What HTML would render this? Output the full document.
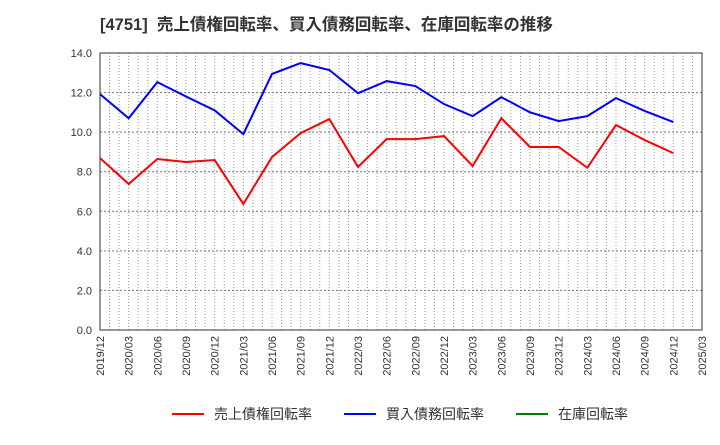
<!DOCTYPE html>
<html><head><meta charset="utf-8"><style>
body{margin:0;background:#fff;width:720px;height:440px;overflow:hidden;font-family:"Liberation Sans","Noto Sans CJK JP",sans-serif}
</style></head><body>
<svg id="chart" width="720" height="440" xmlns="http://www.w3.org/2000/svg" font-family="Liberation Sans, Noto Sans CJK JP, sans-serif">
<text x="100" y="30" font-size="16.5" font-weight="bold" fill="#333" xml:space="preserve">[4751]  売上債権回転率、買入債務回転率、在庫回転率の推移</text>
<g id="grid"></g><g id="axes"></g><g id="series"></g>
<g font-size="14" fill="#333">
<g><line x1="172" y1="414" x2="204" y2="414" stroke="#f00" stroke-width="2"/><text x="214" y="419">売上債権回転率</text></g>
<g><line x1="344" y1="414" x2="376" y2="414" stroke="#00f" stroke-width="2"/><text x="386" y="419">買入債務回転率</text></g>
<g><line x1="516" y1="414" x2="548" y2="414" stroke="#008000" stroke-width="2"/><text x="558" y="419">在庫回転率</text></g>
</g>
</svg>
<script>
const categories=["2019/12","2020/03","2020/06","2020/09","2020/12","2021/03","2021/06","2021/09","2021/12","2022/03","2022/06","2022/09","2022/12","2023/03","2023/06","2023/09","2023/12","2024/03","2024/06","2024/09","2024/12","2025/03"];
const receivables=[8.69,7.38,8.64,8.49,8.59,6.37,8.74,9.95,10.66,8.24,9.65,9.65,9.8,8.29,10.7,9.25,9.25,8.2,10.36,9.6,8.94];
const payables=[11.92,10.7,12.53,11.8,11.1,9.9,12.94,13.49,13.14,11.97,12.58,12.33,11.42,10.81,11.77,11.0,10.56,10.81,11.72,11.07,10.51];
const yTicks=["0.0","2.0","4.0","6.0","8.0","10.0","12.0","14.0"];
const X0=100,X1=702,Y0=330,Y1=53,YMAX=14;
const NS="http://www.w3.org/2000/svg";
const step=(X1-X0)/(categories.length-1);
function x(i){return X0+i*step;}
function y(v){return Y0-(v/YMAX)*(Y0-Y1);}
function mk(t,a,p){const e=document.createElementNS(NS,t);for(const k in a)e.setAttribute(k,a[k]);p.appendChild(e);return e;}
const grid=document.getElementById('grid'),axes=document.getElementById('axes'),ser=document.getElementById('series');
for(let m=1;m<(categories.length-1)*3;m++){const xx=X0+m*step/3;
const g=mk('line',{x1:xx,x2:xx,y1:Y1,y2:Y0,stroke:'#999','stroke-dasharray':'1,2','stroke-width':1},grid);

}
yTicks.forEach(t=>{const yy=y(parseFloat(t));
if(parseFloat(t)>0&&parseFloat(t)<YMAX){const g=mk('line',{x1:X0,x2:X1,y1:yy,y2:yy,stroke:'#777','stroke-dasharray':'2,2','stroke-width':1},grid);

}
const l=mk('text',{x:X0-8,y:yy+4,'text-anchor':'end','font-size':11,fill:'#333'},axes);l.textContent=t;

});
const fr=mk('rect',{x:X0,y:Y1,width:X1-X0,height:Y0-Y1,fill:'none',stroke:'#333','stroke-width':1},axes);


categories.forEach((c,i)=>{const t=mk('text',{transform:`translate(${x(i)+4},${Y0+6}) rotate(-90)`,'text-anchor':'end','font-size':11,fill:'#333'},axes);t.textContent=c;

});
function line(d,col,name){const p=mk('polyline',{points:d.map((v,i)=>x(i)+','+y(v)).join(' '),fill:'none',stroke:col,'stroke-width':2},ser);

}
line(receivables,'#f00','receivables-turnover-line');
line(payables,'#00f','payables-turnover-line');
</script>
</body></html>
